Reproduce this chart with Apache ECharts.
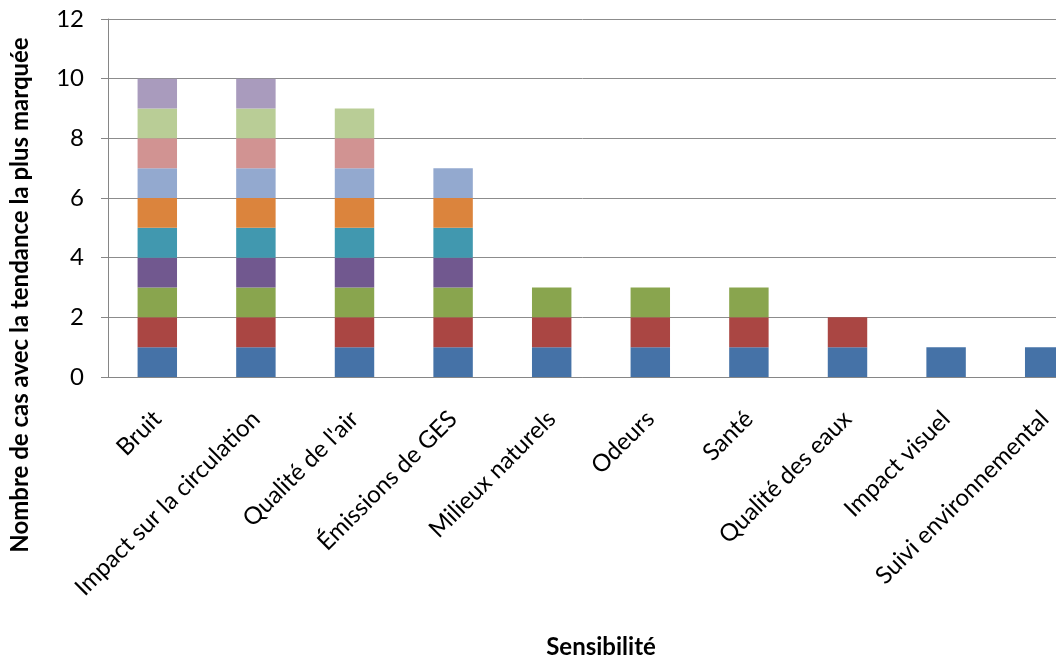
<!DOCTYPE html>
<html>
<head>
<meta charset="utf-8">
<script src="https://cdn.jsdelivr.net/npm/echarts@6/dist/echarts.min.js"></script>
<style>
  html, body { margin: 0; padding: 0; background: #fff; }
  #chart { width: 1056px; height: 657px; }
</style>
</head>
<body>
<div id="chart"></div>
<script>
const categories = [
  'Bruit',
  'Impact sur la circulation',
  "Qualité de l'air",
  'Émissions de GES',
  'Milieux naturels',
  'Odeurs',
  'Santé',
  'Qualité des eaux',
  'Impact visuel',
  'Suivi environnemental',
]

// one segment per stacked series
const s1  = [1, 1, 1, 1, 1, 1, 1, 1, 1, 1]
const s2  = [1, 1, 1, 1, 1, 1, 1, 1, 0, 0]
const s3  = [1, 1, 1, 1, 1, 1, 1, 0, 0, 0]
const s4  = [1, 1, 1, 1, 0, 0, 0, 0, 0, 0]
const s5  = [1, 1, 1, 1, 0, 0, 0, 0, 0, 0]
const s6  = [1, 1, 1, 1, 0, 0, 0, 0, 0, 0]
const s7  = [1, 1, 1, 1, 0, 0, 0, 0, 0, 0]
const s8  = [1, 1, 1, 0, 0, 0, 0, 0, 0, 0]
const s9  = [1, 1, 1, 0, 0, 0, 0, 0, 0, 0]
const s10 = [1, 1, 0, 0, 0, 0, 0, 0, 0, 0]

const yTicks = [0, 2, 4, 6, 8, 10, 12]

const yTitle = 'Nombre de cas avec la tendance la plus marquée'
const xTitle = 'Sensibilité'

const colors = [
  '#4572A7', '#AA4643', '#89A54E', '#71588F', '#4198AF',
  '#DB843D', '#93A9CF', '#D19392', '#B9CD96', '#A99BBD',
]

const seriesData = [s1, s2, s3, s4, s5, s6, s7, s8, s9, s10]
const font = 'Lato, "Open Sans", sans-serif'

const chart = echarts.init(document.getElementById('chart'))

const option = {
  animation: false,
  color: colors,
  grid: {
    left: 108,
    right: -38,
    top: 19,
    bottom: 280,
    containLabel: false,
    outerBoundsMode: 'none',
  },
  // y title sits centred on the whole chart height, not on the plot
  graphic: [{
    type: 'text',
    x: 20,
    y: 295,
    rotation: Math.PI / 2,
    style: {
      text: yTitle,
      fontFamily: font,
      fontSize: 24,
      fontWeight: 'bold',
      fill: '#000',
      align: 'center',
      verticalAlign: 'middle',
    },
  }],
  xAxis: {
    type: 'category',
    data: categories,
    name: xTitle,
    nameLocation: 'middle',
    nameGap: 258,
    nameTextStyle: { fontFamily: font, fontSize: 24, fontWeight: 'bold', color: '#000' },
    axisLine: { lineStyle: { color: '#868686' } },
    axisTick: { alignWithLabel: false, length: 6, lineStyle: { color: '#868686' } },
    axisLabel: {
      rotate: 45,
      interval: 0,
      margin: 38,
      fontFamily: font,
      fontSize: 24,
      color: '#000',
    },
  },
  yAxis: {
    type: 'value',
    min: yTicks[0],
    max: yTicks[yTicks.length - 1],
    interval: 2,
    axisLine: { show: true, lineStyle: { color: '#868686' } },
    axisTick: { show: true, length: 7, lineStyle: { color: '#868686' } },
    axisLabel: { margin: 24, fontFamily: font, fontSize: 24, color: '#000' },
    splitLine: { lineStyle: { color: '#8c8c8c', width: 1 } },
  },
  series: seriesData.map((d, i) => ({
    name: 'S' + (i + 1),
    type: 'bar',
    stack: 'total',
    barWidth: '40%',
    data: d.map(v => (v === 0 ? '-' : v)),
    itemStyle: { color: colors[i] },
  })),
}

chart.setOption(option)
</script>
</body>
</html>
